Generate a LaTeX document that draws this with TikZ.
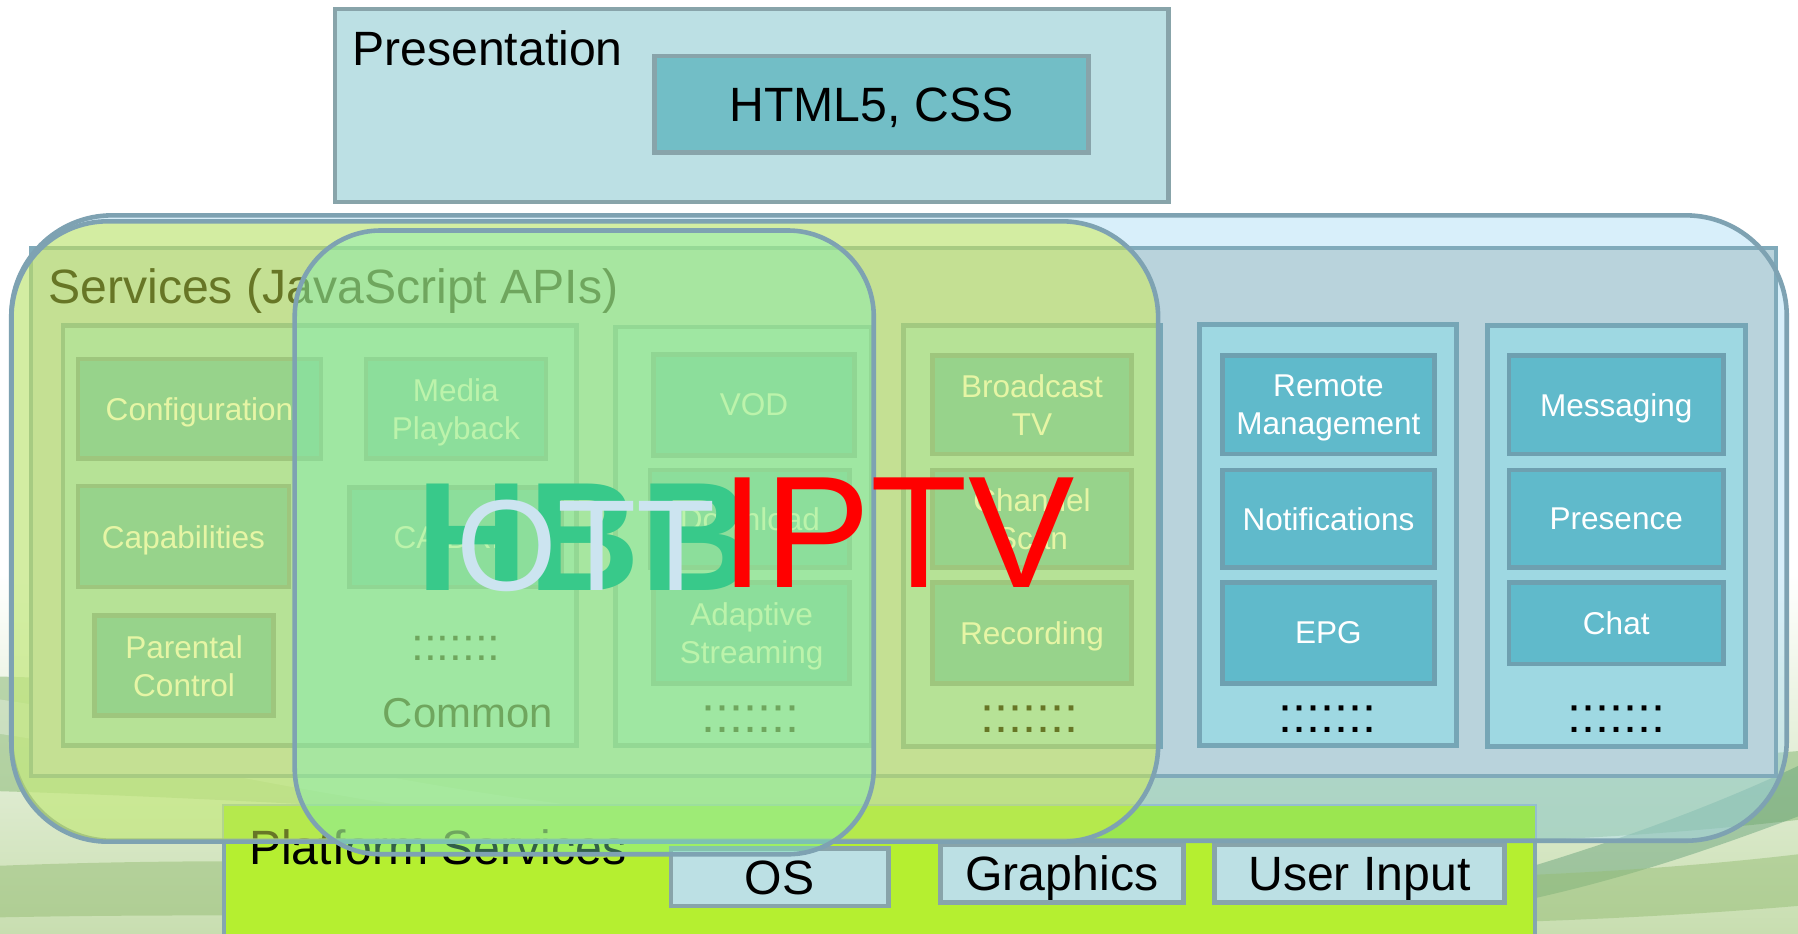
\documentclass[tikz,border=0pt]{standalone}
\usepackage{fontspec}
\setmainfont{Liberation Sans}

\newcommand\setfs[2]{\fontsize{#1}{#2}\selectfont}

% palette
\definecolor{hillA}{RGB}{200,222,176}
\definecolor{hillB}{RGB}{140,186,120}
\definecolor{hillC}{RGB}{96,158,118}
\definecolor{hillD}{RGB}{150,190,118}
\definecolor{bluefill}{RGB}{170,220,245}
\definecolor{svcfill}{RGB}{185,211,220}
\definecolor{svcedge}{RGB}{128,170,186}
\definecolor{colfill}{RGB}{158,216,226}
\definecolor{coledge}{RGB}{118,166,182}
\definecolor{itemfill}{RGB}{96,186,203}
\definecolor{itemedge}{RGB}{110,160,176}
\definecolor{ringedge}{RGB}{126,162,178}
\definecolor{yelfill}{RGB}{207,237,76}
\definecolor{grnfill}{RGB}{125,240,180}
\definecolor{presfill}{RGB}{188,224,228}
\definecolor{presedge}{RGB}{136,164,170}
\definecolor{htmlfill}{RGB}{114,190,198}
\definecolor{limefill}{RGB}{181,239,48}
\definecolor{limeshade}{RGB}{155,230,80}
\definecolor{platedge}{RGB}{132,166,176}
\definecolor{hbbgreen}{RGB}{56,201,138}
\definecolor{ottblue}{RGB}{204,228,240}

\tikzset{
  title/.style={inner sep=0pt, text=black, font=\setfs{42}{50}},
  presbox/.style={draw=presedge, fill=presfill, line width=4pt, inner sep=0pt},
  htmlbox/.style={draw=presedge, fill=htmlfill, line width=4pt, inner sep=0pt,
    text height=30pt, text depth=0pt, font=\setfs{42}{50}},
  platbox/.style={draw=platedge, fill=limefill, line width=3.5pt, inner sep=0pt},
  hwbox/.style={draw=presedge, fill=presfill, line width=4pt, inner sep=0pt,
    text height=30pt, text depth=0pt, font=\setfs{42}{50}},
  svcbox/.style={draw=svcedge, fill=svcfill, line width=3.5pt, inner sep=0pt},
  colbox/.style={draw=coledge, fill=colfill, line width=4pt, inner sep=0pt},
  item/.style={draw=itemedge, fill=itemfill, line width=4pt, inner sep=0pt,
    text depth=0pt, text=white, align=center, font=\setfs{27.5}{33}},
  dots/.style={anchor=base, inner sep=0pt, text=black, font=\setfs{44}{44}},
  ring/.style={inner sep=0pt, line width=4pt, draw=ringedge},
  bigword/.style={anchor=base west, inner sep=0pt},
}

\begin{document}
\begin{tikzpicture}[x=1pt,y=-1pt]
\useasboundingbox (0,0) rectangle (1568,814);
\clip (0,0) rectangle (1568,814);

% ---- backdrop: white page with soft green hills at the bottom
\fill[white] (0,0) rectangle (1568,814);
\shade[top color=white, bottom color=hillA] (0,500) rectangle (1568,814);
\fill[hillB, opacity=0.55] (0,590) .. controls (400,600) and (1000,700) .. (1568,655)
  -- (1568,715) .. controls (1100,770) and (500,705) .. (0,690) -- cycle;
\fill[hillC, opacity=0.45] (1250,780) .. controls (1400,740) and (1500,700) .. (1568,668)
  -- (1568,712) .. controls (1480,745) and (1380,780) .. (1250,800) -- cycle;
\fill[hillD, opacity=0.5] (0,755) .. controls (500,735) and (1100,800) .. (1568,745)
  -- (1568,790) .. controls (1100,830) and (500,790) .. (0,800) -- cycle;
\fill[white, opacity=0.3] (0,610) .. controls (200,640) and (350,700) .. (700,720)
  -- (700,735) .. controls (350,720) and (200,670) .. (0,640) -- cycle;

% ---- presentation layer
\node[presbox, minimum width=727pt, minimum height=168pt] (pres) at (655.5,92) {};
\node[title, anchor=base west] (prestitle) at (307,57) {Presentation};
\node[htmlbox, minimum width=378pt, minimum height=84pt] (html) at (760,91) {HTML5, CSS};

% ---- platform layer
\node[platbox, minimum width=1144pt, minimum height=140pt] (plat) at (767,773) {};
\node[hwbox, minimum width=190pt, minimum height=50pt] (os) at (680,765) {OS};
\node[hwbox, minimum width=212pt, minimum height=50pt] (gfx) at (926,762) {Graphics};
\node[hwbox, minimum width=253pt, minimum height=50pt] (uin) at (1185.5,762) {User Input};

% ---- OTT ring (fill only, edge drawn later)
\node[inner sep=0pt, fill=bluefill, fill opacity=0.45, rounded corners=88pt,
  minimum width=1548pt, minimum height=545pt] (ottring) at (784,460.5) {};
% platform strip seen through the ring
\fill[limeshade] ([xshift=2pt,yshift=-2pt]plat.north west)
  rectangle ([xshift=-2pt]plat.east |- ottring.south);
\node[title, anchor=base west] (plattitle) at (217,754) {Platform Services};

% ---- services layer
\node[svcbox, minimum width=1522pt, minimum height=461pt] (svc) at (788,446.5) {};
\node[title, anchor=base west] (svctitle) at (42,265) {Services (JavaScript APIs)};

\node[colbox, minimum width=448pt, minimum height=366pt] (colA) at (279,467) {};
\node[colbox, minimum width=223pt, minimum height=365pt] (colB) at (648.5,467.5) {};
\node[colbox, minimum width=224pt, minimum height=367pt] (colC) at (900,467.5) {};
\node[colbox, minimum width=224pt, minimum height=367pt] (colD) at (1158,466.5) {};
\node[colbox, minimum width=225pt, minimum height=367pt] (colE) at (1409.5,467.5) {};

% common services
\node[item, minimum width=212pt, minimum height=87pt] (conf) at (174,356.5) {Configuration};
\node[item, minimum width=157pt, minimum height=87pt] (media) at (397.5,356.5) {Media\\Playback};
\node[item, minimum width=184pt, minimum height=88pt] (capab) at (160,468) {Capabilities};
\node[item, minimum width=185pt, minimum height=87pt] (cadrm) at (397.5,468.5) {CA/DRM};
\node[item, minimum width=156pt, minimum height=87pt] (parent) at (160.5,580.5) {Parental\\Control};
\node[dots, font=\setfs{40}{40}] (dotsA) at (397.6,576) {:::::::};
\node[anchor=base, inner sep=0pt, text=black, font=\setfs{36.5}{40}] (common) at (408,634) {Common};

% on-demand services
\node[item, minimum width=175pt, minimum height=88pt] (vod) at (657.5,353) {VOD};
\node[item, minimum width=174pt, minimum height=85pt] (down) at (654,452.5) {Download};
\node[item, minimum width=171pt, minimum height=88pt] (adapt) at (655.5,552) {Adaptive\\Streaming};
\node[dots] (dotsB) at (654.5,639) {:::::::};

% broadcast services
\node[item, minimum width=174pt, minimum height=86pt] (bcast) at (900,353) {Broadcast\\TV};
\node[item, minimum width=174pt, minimum height=85pt] (scan) at (900,452.5) {Channel\\Scan};
\node[item, minimum width=174pt, minimum height=88pt] (rec) at (900,552) {Recording};
\node[dots] (dotsC) at (897.5,639) {:::::::};

% operator services
\node[item, minimum width=185pt, minimum height=86pt] (remote) at (1158.5,353) {Remote\\Management};
\node[item, minimum width=185pt, minimum height=85pt] (notif) at (1158.5,452.5) {Notifications};
\node[item, minimum width=185pt, minimum height=88pt] (epg) at (1158.5,552) {EPG};
\node[dots] (dotsD) at (1158,639) {:::::::};

% social services
\node[item, minimum width=187pt, minimum height=86pt] (msg) at (1409.5,353) {Messaging};
\node[item, minimum width=187pt, minimum height=85pt] (presence) at (1409.5,452.5) {Presence};
\node[item, minimum width=187pt, minimum height=71pt] (chat) at (1409.5,543.5) {Chat};
\node[dots] (dotsE) at (1409.5,639) {:::::::};

% ---- OTT ring edge
\draw[ringedge, line width=4pt, rounded corners=88pt]
  (ottring.north west) rectangle (ottring.south east);

% ---- IPTV ring
\node[ring, fill=yelfill, fill opacity=0.5, rounded corners=84pt,
  minimum width=1000pt, minimum height=541pt] (iptvring) at (510,463.5) {};

% ---- HbbTV ring
\node[ring, fill=grnfill, fill opacity=0.4, rounded corners=75pt,
  minimum width=505pt, minimum height=544pt] (hbbring) at (509.5,473) {};

% ---- profile labels
\node[bigword, text=hbbgreen, font=\bfseries\setfs{135}{135}] (hbb) at (363,515) {HBB};
\node[bigword, text=ottblue, font=\setfs{113}{113}] (ott) at (398,515) {OTT};
\node[bigword, text=red, font=\setfs{139}{139}] (iptv) at (628,512) {IPTV};
\end{tikzpicture}
\end{document}
